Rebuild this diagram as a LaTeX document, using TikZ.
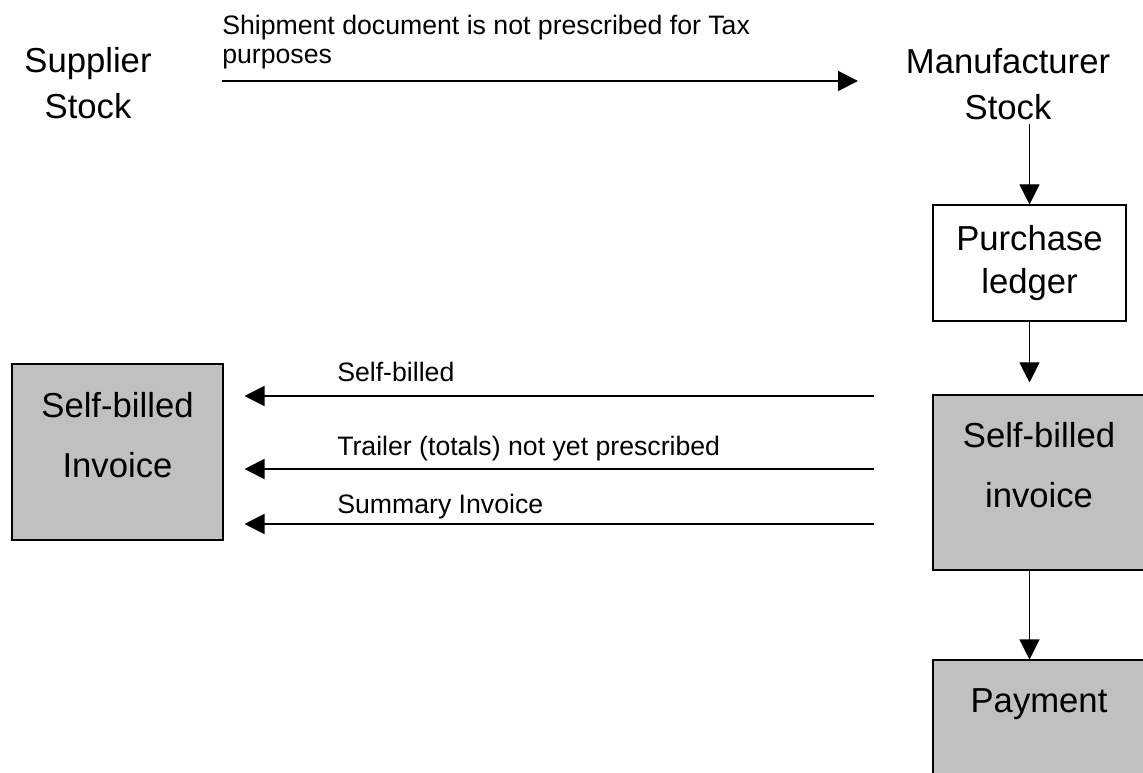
\documentclass[tikz,border=0pt]{standalone}
\usepackage{fontspec}
\setmainfont{Liberation Sans}
\usetikzlibrary{arrows.meta}
\usetikzlibrary{positioning}
\usetikzlibrary{calc}

\begin{document}
\begin{tikzpicture}[x=0.75pt, y=-0.75pt,
    bigtext/.style={font=\fontsize{26}{34}\selectfont, align=center},
    smalltext/.style={font=\fontsize{20}{21.75}\selectfont, align=left, inner sep=0pt},
    docbox/.style={draw, line width=\boxwidth, fill=boxgray, font=\fontsize{26}{45}\selectfont, align=center, minimum width=159pt, minimum height=131.25pt},
    hflow/.style={-{Triangle[length=15pt, width=15pt]}, line width=\hwidth},
    vflow/.style={-{Triangle[length=15pt, width=15pt]}, line width=\vwidth}]
  \definecolor{boxgray}{RGB}{192,192,192}

  \def\boxwidth{0.8pt}
  \def\hwidth{1.5pt}
  \def\vwidth{0.8pt}

  % page frame, right column runs off the page
  \useasboundingbox (0,0) rectangle (1143,773);
  \clip (0,0) rectangle (1143,773);

  % stock
  \node[bigtext] (sup) at (88,83) {Supplier\\Stock};
  \node[bigtext] (mfr) at (1008,84) {Manufacturer\\Stock};

  \coordinate (shipA) at (222,81);
  \coordinate (shipB) at (858,81);
  \draw[hflow] (shipA) -- (shipB);
  \node[smalltext, anchor=north west] (shiplbl) at (222,15) {Shipment document is not prescribed for Tax\\purposes};

  % manufacturer column
  \node[draw, line width=\boxwidth, bigtext, font=\fontsize{26}{32}\selectfont, minimum width=144.75pt, minimum height=87pt] (ledger) at (1029.5,263) {Purchase\\ledger};
  \node[docbox, text depth=26pt] (rinv) at (1039,482.5) {Self-billed\\invoice};
  \node[docbox, text depth=70pt] (pay) at (1039,747.5) {Payment};

  \draw[vflow] (ledger.north |- mfr.south) -- (ledger.north);
  \draw[vflow, shorten >=9pt] (ledger.south) -- (ledger.south |- rinv.north);
  \draw[vflow] (ledger.south |- rinv.south) -- (ledger.south |- pay.north);

  % supplier copy
  \node[docbox, text depth=26pt, minimum width=158.25pt, minimum height=132pt] (linv) at (117.5,452) {Self-billed\\Invoice};

  \coordinate (sbY) at (0,396);
  \coordinate (trY) at (0,469);
  \coordinate (suY) at (0,524);
  \draw[hflow, shorten <=43.5pt, shorten >=15.75pt] (rinv.west |- sbY) -- (linv.east |- sbY);
  \draw[hflow, shorten <=43.5pt, shorten >=15.75pt] (rinv.west |- trY) -- (linv.east |- trY);
  \draw[hflow, shorten <=43.5pt, shorten >=15.75pt] (rinv.west |- suY) -- (linv.east |- suY);

  \node[smalltext, anchor=base west] (sblbl) at (337,382) {Self-billed};
  \node[smalltext, anchor=base west] (trlbl) at (337,456) {Trailer (totals) not yet prescribed};
  \node[smalltext, anchor=base west] (sulbl) at (337,513) {Summary Invoice};

\end{tikzpicture}
\end{document}
